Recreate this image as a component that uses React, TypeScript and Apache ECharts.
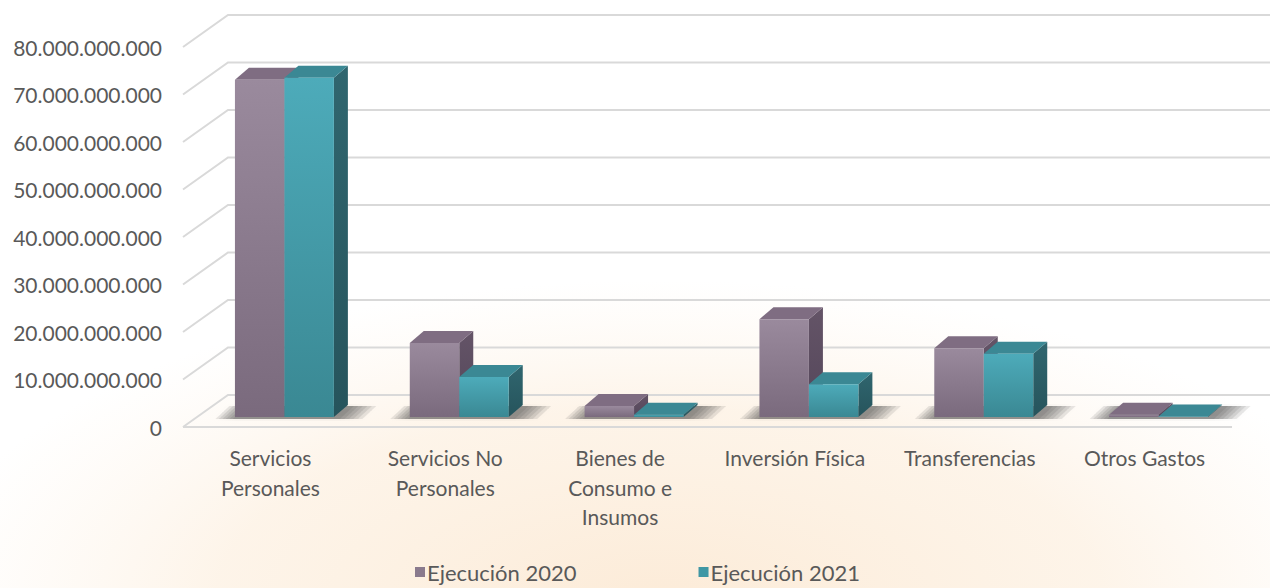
import React, { useEffect, useRef } from "react";
import * as echarts from "echarts";

const categories = [
  "Servicios\nPersonales",
  "Servicios No\nPersonales",
  "Bienes de\nConsumo e\nInsumos",
  "Inversión Física",
  "Transferencias",
  "Otros Gastos",
];
const ejecucion2020 = [71.0e9, 15.6e9, 2.3e9, 20.6e9, 14.5e9, 0.5e9];
const ejecucion2021 = [71.4e9, 8.4e9, 0.5e9, 6.9e9, 13.3e9, 0.1e9];
const yTicks = [0, 10e9, 20e9, 30e9, 40e9, 50e9, 60e9, 70e9, 80e9];
const seriesNames = ["Ejecución 2020", "Ejecución 2021"];

const FONT = "Lato";
const TEXT = "#595959";
const WALL_DX = 45;
const WALL_DY = -32;
const BAR_OFF_X = 14;
const BAR_OFF_Y = -10;
const DEPTH_X = 14;
const DEPTH_Y = -12;
const BAR_FRAC = 0.283;

const fmt = (v: number) => String(Math.round(v)).replace(/\B(?=(\d{3})+(?!\d))/g, ".");

const palettes = [
  {
    front: ["#9a8a9d", "#7a6a7d"],
    top: "#7f6d82",
    side: ["#645467", "#54465a"],
    legend: "#8a7a8d",
  },
  {
    front: ["#4dabba", "#3a8893"],
    top: "#3b8894",
    side: ["#30666f", "#26545c"],
    legend: "#3f97a4",
  },
];

function barRender(seriesIdx: number) {
  return (params: any, api: any) => {
    const i = api.value(0);
    const v = api.value(1);
    const base = api.coord([i, 0]);
    const top = api.coord([i, v]);
    const band = api.size([1, 0])[0];
    const bw = band * BAR_FRAC;
    const x0 = base[0] + BAR_OFF_X - bw + seriesIdx * bw;
    const x1 = x0 + bw;
    const yB = base[1] + BAR_OFF_Y;
    const yT = top[1] + BAR_OFF_Y;
    const p = palettes[seriesIdx];
    const frontGrad = new echarts.graphic.LinearGradient(0, 0, 0, 1, [
      { offset: 0, color: p.front[0] },
      { offset: 1, color: p.front[1] },
    ]);
    const sideGrad = new echarts.graphic.LinearGradient(0, 0, 0, 1, [
      { offset: 0, color: p.side[0] },
      { offset: 1, color: p.side[1] },
    ]);
    return {
      type: "group",
      children: [
        {
          type: "polygon",
          shape: {
            points: [
              [x1, yB],
              [x1 + DEPTH_X, yB + DEPTH_Y],
              [x1 + DEPTH_X, yT + DEPTH_Y],
              [x1, yT],
            ],
          },
          style: { fill: sideGrad },
        },
        {
          type: "polygon",
          shape: {
            points: [
              [x0, yT],
              [x1, yT],
              [x1 + DEPTH_X, yT + DEPTH_Y],
              [x0 + DEPTH_X, yT + DEPTH_Y],
            ],
          },
          style: { fill: p.top },
        },
        {
          type: "rect",
          shape: { x: x0, y: yT, width: bw, height: Math.max(yB - yT, 0.01) },
          style: { fill: frontGrad },
        },
      ],
    };
  };
}

function shadowRender(params: any, api: any) {
  const i = api.value(0);
  const base = api.coord([i, 0]);
  const band = api.size([1, 0])[0];
  const bw = band * BAR_FRAC;
  const xL = base[0] + BAR_OFF_X - bw;
  const xR = xL + 2 * bw;
  const yB = base[1] + BAR_OFF_Y;
  const children: any[] = [];
  for (let k = 0; k < 6; k++) {
    const el = 2 + k * 3.5;
    const er = 6 + k * 4.5;
    children.push({
      type: "polygon",
      shape: {
        points: [
          [xL - el, yB + 2],
          [xR + er, yB + 2],
          [xR + er + DEPTH_X, yB + DEPTH_Y + 1],
          [xL - el + DEPTH_X, yB + DEPTH_Y + 1],
        ],
      },
      style: {
        fill: "rgba(60,60,60,0.11)",
        shadowBlur: 5,
        shadowColor: "rgba(60,60,60,0.1)",
      },
    });
  }
  return { type: "group", children };
}

function wallRender(params: any, api: any) {
  const cs = params.coordSys;
  const v = api.value(1);
  const y = api.coord([0, v])[1];
  const x = cs.x;
  const children: any[] = [
    {
      type: "polyline",
      shape: {
        points: [
          [x, y],
          [x + WALL_DX, y + WALL_DY],
          [x + cs.width + WALL_DX + 20, y + WALL_DY],
        ],
      },
      style: { stroke: "#d9d9d9", lineWidth: 2, fill: "none" },
    },
  ];
  if (v === 0) {
    children.push({
      type: "line",
      shape: { x1: x, y1: y, x2: x + cs.width, y2: y },
      style: { stroke: "#d9d9d9", lineWidth: 2 },
    });
  }
  return { type: "group", children };
}

export default function App() {
  const ref = useRef<HTMLDivElement>(null);
  useEffect(() => {
    if (!ref.current) return;
    const chart = echarts.init(ref.current, undefined, { renderer: "svg" });
    chart.setOption({
      animation: false,
      backgroundColor: "#ffffff",
      textStyle: { fontFamily: FONT },
      graphic: [
        {
          type: "ellipse",
          silent: true,
          z: -10,
          shape: { cx: 660, cy: 600, rx: 740, ry: 320 },
          style: {
            fill: new echarts.graphic.RadialGradient(0.5, 0.5, 0.5, [
              { offset: 0, color: "rgba(250,222,190,0.6)" },
              { offset: 0.6, color: "rgba(251,228,200,0.4)" },
              { offset: 1, color: "rgba(252,235,215,0)" },
            ]),
          },
        },
      ],
      grid: { left: 183, right: 38, top: 47, bottom: 161 },
      legend: {
        data: seriesNames,
        left: 410,
        top: 556,
        icon: "rect",
        itemWidth: 10,
        itemHeight: 10,
        itemGap: 122,
        textStyle: { fontFamily: FONT, fontSize: 22, color: TEXT, padding: [0, 0, 0, -3] },
      },
      xAxis: {
        type: "category",
        data: categories,
        axisLine: { show: false },
        axisTick: { show: false },
        splitLine: { show: false },
        axisLabel: {
          interval: 0,
          margin: 16,
          fontFamily: FONT,
          fontSize: 21,
          lineHeight: 29.5,
          color: TEXT,
          verticalAlign: "top",
        },
      },
      yAxis: {
        type: "value",
        min: 0,
        max: 80e9,
        interval: 10e9,
        axisLine: { show: false },
        axisTick: { show: false },
        splitLine: { show: false },
        axisLabel: {
          margin: 21,
          fontFamily: FONT,
          fontSize: 21,
          color: TEXT,
          formatter: (v: number) => fmt(v),
        },
      },
      series: [
        {
          type: "custom",
          name: "wall",
          silent: true,
          clip: false,
          z: 1,
          renderItem: wallRender,
          data: yTicks.map((v) => [0, v]),
          encode: { x: 0, y: 1 },
        },
        {
          type: "custom",
          name: "shadow",
          silent: true,
          clip: false,
          z: 1.5,
          renderItem: shadowRender,
          data: categories.map((_, i) => [i, 0]),
          encode: { x: 0, y: 1 },
        },
        ...[ejecucion2020, ejecucion2021].map((arr, s) => ({
          type: "custom",
          name: seriesNames[s],
          clip: false,
          z: 2,
          itemStyle: { color: palettes[s].legend },
          renderItem: barRender(s),
          data: arr.map((v, i) => [i, v]),
          encode: { x: 0, y: 1 },
        })),
      ],
    });
    return () => chart.dispose();
  }, []);
  return (
    <div
      ref={ref}
      style={{ position: "absolute", left: 0, top: 0, width: 1270, height: 588 }}
    />
  );
}
